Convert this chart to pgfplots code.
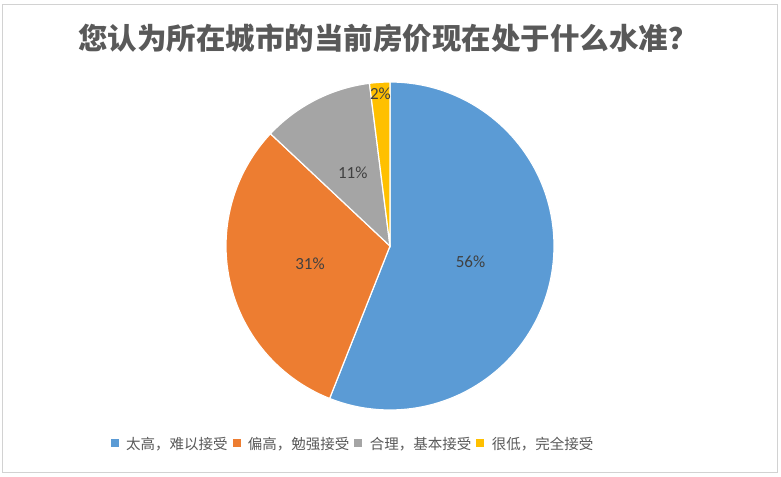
\documentclass[border=0pt]{standalone}
\usepackage{pgfplots}
\pgfplotsset{compat=1.18}
\usepackage{pgfplotstable}
\usepackage{fontspec}
\setmainfont{Noto Sans CJK SC}
\newfontfamily\numfont{Carlito}

\definecolor{c0}{HTML}{5B9BD5}
\definecolor{c1}{HTML}{ED7D31}
\definecolor{c2}{HTML}{A5A5A5}
\definecolor{c3}{HTML}{FFC000}
\definecolor{txt}{HTML}{595959}
\definecolor{pct}{HTML}{404040}

% share of answers, percent
\pgfplotstableread[col sep=comma]{
share,label
56,太高，难以接受
31,偏高，勉强接受
11,合理，基本接受
2,很低，完全接受
}\piedata

\begin{document}
\begin{tikzpicture}
  \begin{axis}[
      hide axis,
      x=1bp, y=1bp,
      xmin=0, xmax=781, ymin=0, ymax=477,
      anchor=origin, at={(0,0)},
      clip=false,
      legend columns=4,
      legend style={
        draw=none, fill=none,
        at={(axis cs:352,34)}, anchor=center,
        font=\fontsize{14.5bp}{17bp}\selectfont,
        text=txt,
        nodes={inner sep=0pt, text depth=0pt},
        /tikz/every odd column/.append style={column sep=8bp},
        /tikz/every even column/.append style={column sep=5bp},
      },
      legend image code/.code={\fill[#1] (0bp,-3.5bp) rectangle (7bp,3.5bp);},
    ]
    % frame
    \draw[gray!35, line width=1bp] (axis cs:2,5) rectangle (axis cs:777,472);

    % title
    \node[text=txt, font=\bfseries\fontsize{29.5bp}{32bp}\selectfont]
      at (axis cs:388,439) {您认为所在城市的当前房价现在处于什么水准？};

    % slices, clockwise from twelve o'clock
    \gdef\angA{90}
    \pgfplotsinvokeforeach{0,1,2,3}{
      \pgfplotstablegetelem{#1}{share}\of\piedata
      \let\sh\pgfplotsretval
      \pgfmathsetmacro\angB{\angA-3.6*\sh}
      \pgfmathsetmacro\mid{(\angA+\angB)/2}
      \pgfmathsetmacro\lr{\sh<5 ? 153 : 82}
      \pgfmathsetmacro\lx{390+\lr*cos(\mid)}
      \pgfmathsetmacro\ly{231+\lr*sin(\mid)}
      \edef\temp{%
        \noexpand\fill[c#1, draw=white, line width=1.2bp]
          (axis cs:390,231) -- ++(\angA:164bp)
          arc[start angle=\angA, end angle=\angB, radius=164bp] -- cycle;
        \noexpand\node[text=pct, font=\noexpand\numfont\noexpand\fontsize{17bp}{19bp}\noexpand\selectfont]
          at (axis cs:\lx,\ly) {\sh\noexpand\%};
      }
      \temp
      \xdef\angA{\angB}
    }

    \addlegendimage{c0}\addlegendentry{太高，难以接受}
    \addlegendimage{c1}\addlegendentry{偏高，勉强接受}
    \addlegendimage{c2}\addlegendentry{合理，基本接受}
    \addlegendimage{c3}\addlegendentry{很低，完全接受}
  \end{axis}
  \useasboundingbox (0,0) rectangle (781bp,477bp);
\end{tikzpicture}
\end{document}
